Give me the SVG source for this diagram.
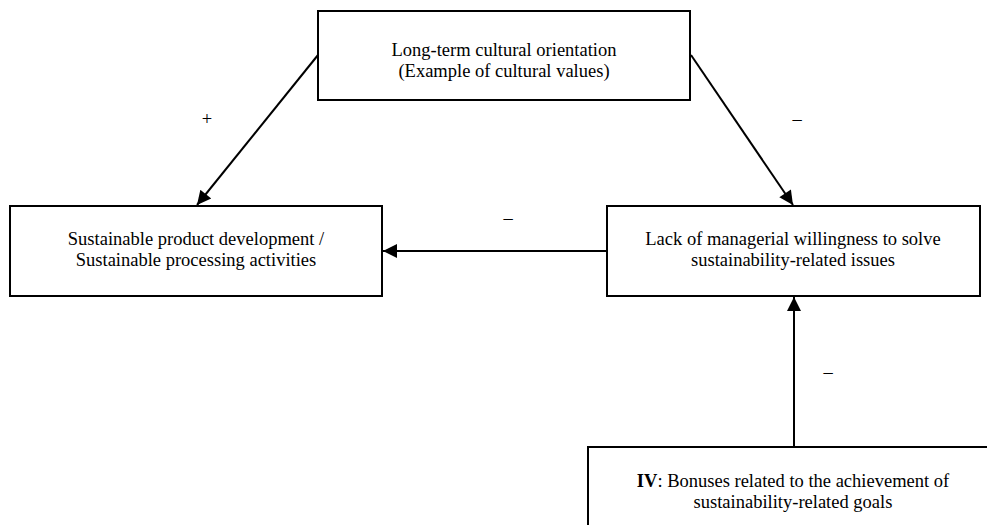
<svg xmlns="http://www.w3.org/2000/svg" width="987" height="525" viewBox="0 0 987 525">
<style>
.box{fill:#fff;stroke:#000;stroke-width:2}
.t{font-family:"Liberation Serif","Times New Roman",serif;font-size:18.5px;fill:#000;text-anchor:middle}
.s{font-family:"Liberation Serif","Times New Roman",serif;font-size:18.5px;fill:#000;text-anchor:middle}
.c{stroke:#000;stroke-width:2;fill:none;marker-end:url(#ah)}
</style>
<defs>
<marker id="ah" viewBox="0 0 10 10" refX="10" refY="5" markerWidth="8" markerHeight="7" markerUnits="strokeWidth" orient="auto">
<path d="M0,0 L10,5 L0,10 z" fill="#000"/>
</marker>
</defs>
<g id="connectors">
<line class="c" x1="318" y1="55" x2="197" y2="205"/>
<line class="c" x1="691" y1="55" x2="793" y2="205"/>
<line class="c" x1="607" y1="251" x2="383" y2="251"/>
<line class="c" x1="794" y1="446" x2="794" y2="297"/>
<text class="s" x="207" y="125">+</text>
<text class="s" x="797" y="125">–</text>
<text class="s" x="508" y="224">–</text>
<text class="s" x="828" y="378">–</text>
</g>
<g id="top">
<rect class="box" x="318" y="11" width="372" height="89"/>
<text class="t" x="504" y="56">Long-term cultural orientation</text>
<text class="t" x="504" y="77">(Example of cultural values)</text>
</g>
<g id="left">
<rect class="box" x="10" y="206" width="372" height="90"/>
<text class="t" x="196" y="245">Sustainable product development /</text>
<text class="t" x="196" y="266">Sustainable processing activities</text>
</g>
<g id="right">
<rect class="box" x="607" y="206" width="373" height="90"/>
<text class="t" x="793" y="245">Lack of managerial willingness to solve</text>
<text class="t" x="793" y="266">sustainability-related issues</text>
</g>
<g id="bottom">
<rect class="box" x="588" y="447" width="412" height="100"/>
<text class="t" x="793" y="487"><tspan font-weight="bold">IV</tspan>: Bonuses related to the achievement of</text>
<text class="t" x="793" y="508">sustainability-related goals</text>
</g>
</svg>
